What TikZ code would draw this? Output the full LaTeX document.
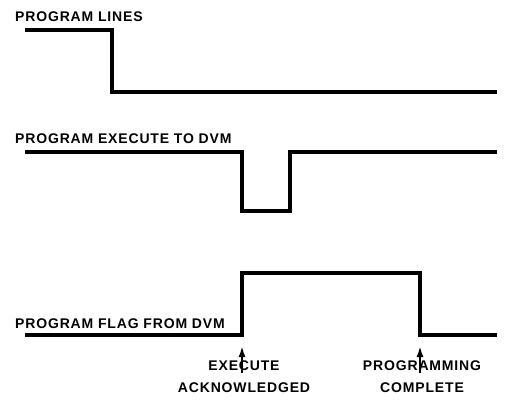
\documentclass[tikz,border=0pt]{standalone}
\usepackage{fontspec}
\setmainfont[LetterSpace=6]{Liberation Sans}
\usetikzlibrary{arrows.meta}
\begin{document}
\begin{tikzpicture}[x=1pt,y=-1pt,
  wave/.style={line width=3.5pt,line join=miter,line cap=butt},
  lbl/.style={inner sep=0pt,anchor=base west,font=\bfseries\fontsize{14}{16}\selectfont},
  evt/.style={inner sep=0pt,anchor=base,align=center,font=\bfseries\fontsize{14}{21.5}\selectfont},
  marker/.style={line width=2pt,-{Latex[length=11pt,width=7pt]}}]
\useasboundingbox (0,0) rectangle (505,416);
% labels
\node[lbl] (l1) at (15,21) {PROGRAM LINES};
\node[lbl] (l2) at (15,143) {PROGRAM EXECUTE TO DVM};
\node[lbl] (l3) at (15,328) {PROGRAM FLAG FROM DVM};
% waveforms
\draw[wave] (25,30) -- (112,30) -- (112,92) -- (497,92);
\draw[wave] (25,152) -- (242,152) -- (242,211) -- (290,211) -- (290,152) -- (497,152);
\draw[wave] (25,335) -- (242,335) coordinate (ack) -- (242,273) -- (420,273) -- (420,335) coordinate (done) -- (497,335);
% events
\node[evt] (e1) at (244,392) {EXECUTE\\ACKNOWLEDGED};
\node[evt] (e2) at (422,392) {PROGRAMMING\\COMPLETE};
\coordinate (a1t) at (242,373);
\coordinate (a1h) at (242,346);
\coordinate (a2t) at (420,373);
\coordinate (a2h) at (420,346);
\draw[marker] (a1t) -- (a1h);
\draw[marker] (a2t) -- (a2h);
\end{tikzpicture}
\end{document}
